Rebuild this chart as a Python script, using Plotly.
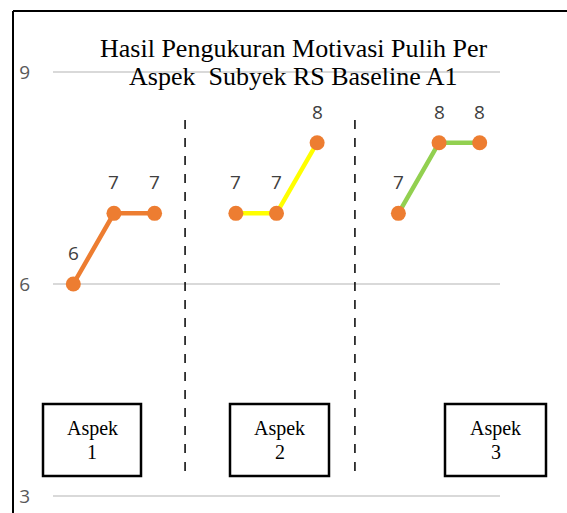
import plotly.graph_objects as go

# ---- data ----
aspek1_x = [1, 2, 3]
aspek1_y = [6, 7, 7]
aspek2_x = [5, 6, 7]
aspek2_y = [7, 7, 8]
aspek3_x = [9, 10, 11]
aspek3_y = [7, 8, 8]
y_ticks = [3, 6, 9]
title_lines = ["Hasil Pengukuran Motivasi Pulih Per", "Aspek\u00a0\u00a0Subyek RS Baseline A1"]
box_labels = [["Aspek", "1"], ["Aspek", "2"], ["Aspek", "3"]]
line_colors = ["#ED7D31", "#FFFF00", "#92D050"]
marker_color = "#ED7D31"

W, H = 567, 513
L, R, T, B = 53, 500, 70, 498  # plot area in px (range padded slightly)
Y0, Y1 = 2.97, 9.03


def px(xp):
    return (xp - L) / (R - L)


def py(yp):
    return (B - yp) / (B - T)


fig = go.Figure()
series = [(aspek1_x, aspek1_y), (aspek2_x, aspek2_y), (aspek3_x, aspek3_y)]
annotations = []
for (xs, ys), lc in zip(series, line_colors):
    fig.add_trace(go.Scatter(
        x=xs, y=ys, mode="lines+markers",
        line=dict(color=lc, width=4.5),
        marker=dict(color=marker_color, size=15),
        showlegend=False, hoverinfo="skip"))
    for xv, yv in zip(xs, ys):
        annotations.append(dict(
            x=xv, y=yv, xref="x", yref="y", text=str(yv), showarrow=False,
            yshift=31, font=dict(family="Open Sans, Liberation Sans", size=19, color="#404040")))

# title
for line, ypix in zip(title_lines, [48, 77]):
    annotations.append(dict(
        x=px(293), y=py(ypix), xref="paper", yref="paper", text=line,
        showarrow=False, xanchor="center", yanchor="middle",
        font=dict(family="Liberation Serif, Times New Roman", size=26, color="black")))

shapes = []
# frame
shapes.append(dict(type="line", xref="paper", yref="paper",
                   x0=px(13), x1=px(13), y0=py(11), y1=py(520),
                   line=dict(color="black", width=2)))
shapes.append(dict(type="line", xref="paper", yref="paper",
                   x0=px(13), x1=px(570), y0=py(11), y1=py(11),
                   line=dict(color="black", width=2)))
# dashed separators
for xd in [3.75, 7.93]:
    shapes.append(dict(type="line", xref="x", yref="paper",
                       x0=xd, x1=xd, y0=py(120), y1=py(474),
                       line=dict(color="black", width=1.5, dash="dash")))
# boxes
box_px = [(43, 141), (230, 329), (445, 546)]
for (bx0, bx1), lab in zip(box_px, box_labels):
    shapes.append(dict(type="rect", xref="paper", yref="paper",
                       x0=px(bx0), x1=px(bx1), y0=py(404), y1=py(476),
                       line=dict(color="black", width=2.5), fillcolor="white"))
    cx = px((bx0 + bx1) / 2)
    for t, ypix in zip(lab, [428, 452]):
        annotations.append(dict(
            x=cx, y=py(ypix), xref="paper", yref="paper", text=t, showarrow=False,
            xanchor="center", yanchor="middle",
            font=dict(family="Liberation Serif, Times New Roman", size=20, color="black")))

fig.update_layout(
    width=W, height=H,
    margin=dict(l=L, r=W - R, t=T, b=H - B, pad=0, autoexpand=False),
    paper_bgcolor="white", plot_bgcolor="white",
    xaxis=dict(range=[0.5, 11.5], showgrid=False, zeroline=False, showticklabels=False,
               showline=False, ticks="", automargin=False),
    yaxis=dict(range=[Y0, Y1], tickvals=y_ticks, showgrid=True, gridcolor="#D9D9D9",
               gridwidth=1.5, zeroline=False, showline=False, ticks="",
               ticklabelstandoff=22, automargin=False,
               tickfont=dict(family="Open Sans, Liberation Sans", size=19, color="#595959")),
    shapes=shapes, annotations=annotations,
)

fig.write_html(
    "out.html",
    config={"displayModeBar": False, "staticPlot": True},
    post_script=("document.body.style.cssText='margin:0;padding:0;overflow:hidden;height:513px';"
                 "document.documentElement.style.overflow='hidden';"),
)
